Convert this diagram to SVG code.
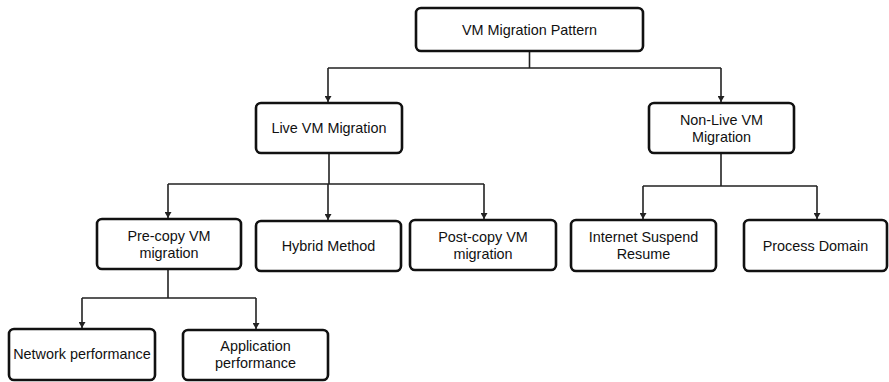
<svg xmlns="http://www.w3.org/2000/svg" width="889" height="382" viewBox="0 0 889 382">
  <style>
    .box { fill: #ffffff; stroke: #111111; stroke-width: 2.6; }
    .lbl { font-family: "Liberation Sans", Arial, sans-serif; font-size: 14.4px; fill: #111111; text-anchor: middle; }
    .wire { fill: none; stroke: #222222; stroke-width: 1.6; }
    .arrow { fill: none; stroke: #222222; stroke-width: 1.6; marker-end: url(#head); }
  </style>
  <defs>
    <!-- small solid arrowhead, tip at the end of the line -->
    <marker id="head" markerUnits="userSpaceOnUse" markerWidth="6" markerHeight="7" refX="6" refY="3.5" orient="auto" viewBox="0 0 6 7">
      <path d="M0 0 L6 3.5 L0 7 Z" fill="#222222"/>
    </marker>
  </defs>
  <rect width="889" height="382" fill="#ffffff"/>

  <g id="connectors">
    <!-- root to level 1 -->
    <path class="wire" d="M529.5 52 V68 M328 68 H721"/>
    <path class="arrow" d="M328 68 V102"/>
    <path class="arrow" d="M721 68 V102"/>
    <!-- live to its methods -->
    <path class="wire" d="M329 154 V184 M168 184 H484"/>
    <path class="arrow" d="M168 184 V218"/>
    <path class="arrow" d="M328 184 V220"/>
    <path class="arrow" d="M484 184 V219"/>
    <!-- non-live to its methods -->
    <path class="wire" d="M721 154 V186 M643 186 H817"/>
    <path class="arrow" d="M643 186 V219"/>
    <path class="arrow" d="M817 186 V219"/>
    <!-- pre-copy to its metrics -->
    <path class="wire" d="M168 270 V298 M82 298 H256"/>
    <path class="arrow" d="M82 298 V328"/>
    <path class="arrow" d="M256 298 V329"/>
  </g>

  <g id="root">
    <rect class="box" x="416" y="8" width="227" height="43" rx="5"/>
    <text class="lbl" x="529.5" y="35">VM Migration Pattern</text>
  </g>
  <g id="live">
    <rect class="box" x="256" y="103" width="146" height="50" rx="5"/>
    <text class="lbl" x="329" y="133">Live VM Migration</text>
  </g>
  <g id="nonlive">
    <rect class="box" x="649" y="103" width="145" height="50" rx="5"/>
    <text class="lbl" x="721.5" y="124.5">Non-Live VM</text>
    <text class="lbl" x="721.5" y="141.5">Migration</text>
  </g>
  <g id="precopy">
    <rect class="box" x="97" y="219" width="144" height="50" rx="5"/>
    <text class="lbl" x="169" y="240.5">Pre-copy VM</text>
    <text class="lbl" x="169" y="257.5">migration</text>
  </g>
  <g id="hybrid">
    <rect class="box" x="256" y="221" width="145" height="50" rx="5"/>
    <text class="lbl" x="328.5" y="251">Hybrid Method</text>
  </g>
  <g id="postcopy">
    <rect class="box" x="410" y="220" width="146" height="50" rx="5"/>
    <text class="lbl" x="483" y="241.5">Post-copy VM</text>
    <text class="lbl" x="483" y="258.5">migration</text>
  </g>
  <g id="internet">
    <rect class="box" x="571" y="220" width="145" height="51" rx="5"/>
    <text class="lbl" x="643.5" y="241.5">Internet Suspend</text>
    <text class="lbl" x="643.5" y="258.5">Resume</text>
  </g>
  <g id="process">
    <rect class="box" x="744" y="220" width="143" height="51" rx="5"/>
    <text class="lbl" x="815.5" y="250.5">Process Domain</text>
  </g>
  <g id="network">
    <rect class="box" x="9" y="329" width="146" height="51" rx="5"/>
    <text class="lbl" x="82" y="359">Network performance</text>
  </g>
  <g id="application">
    <rect class="box" x="183" y="330" width="145" height="50" rx="5"/>
    <text class="lbl" x="255.5" y="351">Application</text>
    <text class="lbl" x="255.5" y="368">performance</text>
  </g>
</svg>
